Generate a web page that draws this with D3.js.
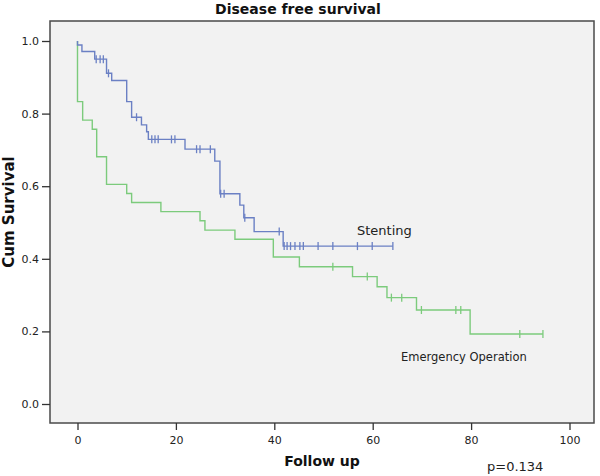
<!DOCTYPE html>
<html><head><meta charset="utf-8">
<script src="https://cdn.jsdelivr.net/npm/d3@7"></script>
<style>body{margin:0;background:#fff} svg{display:block}</style>
</head><body>
<svg id="c" width="600" height="476"></svg>
<script>
const stentTimes = [0, 0.9, 3.5, 5.9, 6.95, 10.0, 11.0, 13.0, 14.05, 14.4, 21.85, 27.9, 28.95, 33.0, 33.8, 35.9, 41.8];
const stentSurv  = [0.989, 0.971, 0.950, 0.911, 0.891, 0.833, 0.790, 0.769, 0.750, 0.729, 0.702, 0.669, 0.579, 0.548, 0.513, 0.475, 0.435];
const stentCensor = [3.8, 4.6, 5.25, 6.3, 12.0, 15.1, 15.75, 16.4, 19.1, 19.8, 24.2, 24.9, 27.0, 29.1, 29.8, 34.0, 41.0, 42.0, 42.6, 43.3, 44.2, 45.2, 45.9, 48.9, 51.9, 56.9, 59.9, 64.1];
const opTimes = [0, 1.05, 3.0, 3.9, 5.9, 10.0, 11.0, 16.95, 24.9, 25.9, 32.0, 39.8, 45.1, 55.9, 60.9, 62.9, 68.9, 79.8];
const opSurv  = [0.833, 0.782, 0.757, 0.681, 0.605, 0.580, 0.555, 0.530, 0.505, 0.479, 0.454, 0.405, 0.378, 0.351, 0.323, 0.293, 0.259, 0.193];
const opCensor = [51.9, 58.9, 63.8, 65.9, 69.9, 76.9, 77.9, 89.9, 94.6];
const xTicks = [0, 20, 40, 60, 80, 100];
const yTicks = [0, 0.2, 0.4, 0.6, 0.8, 1.0];

const svg = d3.select("#c");
const font = "'DejaVu Sans', Verdana, sans-serif";
const x = d3.scaleLinear().domain([0, 100]).range([77.5, 569.5]);
const y = d3.scaleLinear().domain([0, 1]).range([404, 41]);
const frame = {l: 50, t: 21, r: 594, b: 423};

svg.append("rect").attr("x", frame.l).attr("y", frame.t)
  .attr("width", frame.r - frame.l).attr("height", frame.b - frame.t)
  .attr("fill", "#f2f2f2").attr("stroke", "#4a4a4a").attr("stroke-width", 1.5);

const yAxis = svg.append("g").attr("transform", `translate(${frame.l},0)`)
  .call(d3.axisLeft(y).tickValues(yTicks).tickFormat(d3.format(".1f")).tickSize(8).tickPadding(3));
const xAxis = svg.append("g").attr("transform", `translate(0,${frame.b})`)
  .call(d3.axisBottom(x).tickValues(xTicks).tickSize(7).tickPadding(6));
[yAxis, xAxis].forEach(g => {
  g.select(".domain").remove();
  g.selectAll(".tick line").attr("stroke", "#333").attr("stroke-width", 1.3);
  g.selectAll(".tick text").attr("fill", "#222").style("font-family", font).style("font-size", "11px");
});

function series(times, surv, censor, color) {
  const end = Math.max(times[times.length - 1], d3.max(censor));
  const pts = [[0, 1]].concat(times.map((t, i) => [t, surv[i]]), [[end, surv[surv.length - 1]]]);
  const line = d3.line().x(d => x(d[0])).y(d => y(d[1])).curve(d3.curveStepAfter);
  svg.append("path").attr("d", line(pts)).attr("fill", "none")
    .attr("stroke", color).attr("stroke-width", 1.4);
  const sAt = c => { let s = 1; times.forEach((t, i) => { if (t <= c) s = surv[i]; }); return s; };
  svg.append("g").selectAll("line").data(censor).join("line")
    .attr("x1", d => x(d)).attr("x2", d => x(d))
    .attr("y1", d => y(sAt(d)) - 4).attr("y2", d => y(sAt(d)) + 4)
    .attr("stroke", color).attr("stroke-width", 1.3);
}
series(opTimes, opSurv, opCensor, "#7ccb7c");
series(stentTimes, stentSurv, stentCensor, "#6b80c4");

svg.append("text").attr("x", 298).attr("y", 14).attr("text-anchor", "middle")
  .style("font-family", font).style("font-size", "14px").style("font-weight", "bold")
  .attr("fill", "#111").text("Disease free survival");
svg.append("text").attr("x", 322).attr("y", 466).attr("text-anchor", "middle")
  .style("font-family", font).style("font-size", "14px").style("font-weight", "bold")
  .attr("fill", "#111").text("Follow up");
svg.append("text").attr("transform", "translate(14,212) rotate(-90)").attr("text-anchor", "middle")
  .style("font-family", font).style("font-size", "15px").style("font-weight", "bold")
  .attr("fill", "#111").text("Cum Survival");
svg.append("text").attr("x", 357).attr("y", 235)
  .style("font-family", font).style("font-size", "13px").attr("fill", "#222").text("Stenting");
svg.append("text").attr("x", 401).attr("y", 361)
  .style("font-family", font).style("font-size", "11.5px").attr("fill", "#222").text("Emergency Operation");
svg.append("text").attr("x", 487).attr("y", 471)
  .style("font-family", font).style("font-size", "13px").attr("fill", "#222").text("p=0.134");
</script>
</body></html>
